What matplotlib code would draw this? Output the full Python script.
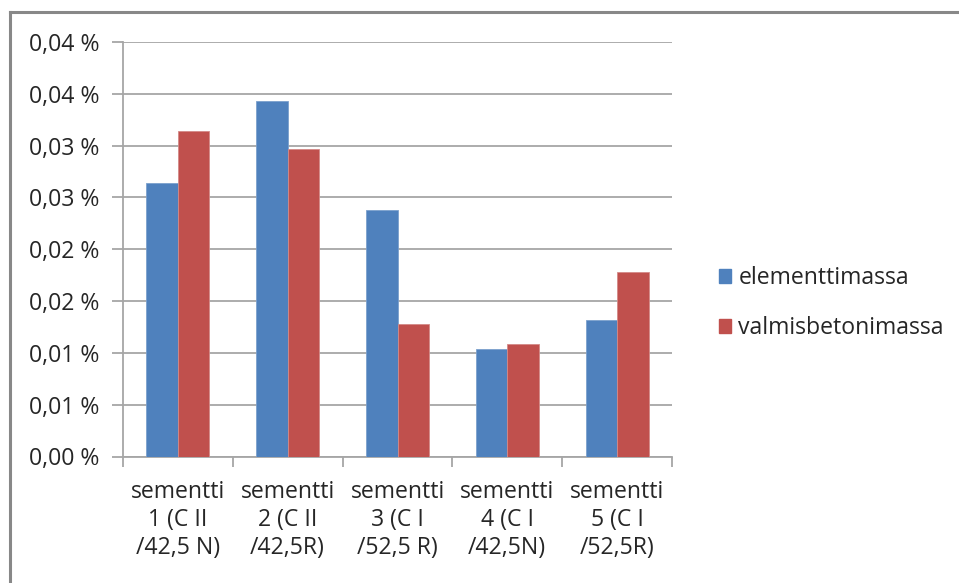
import matplotlib.pyplot as plt
from matplotlib.patches import Patch
from matplotlib.lines import Line2D
from matplotlib.ticker import FuncFormatter
from decimal import Decimal, ROUND_HALF_UP
import numpy as np

plt.rcParams['font.family'] = ['Open Sans', 'DejaVu Sans']

# osuudet prosentteina
categories = ['sementti\n1 (C II\n/42,5 N)', 'sementti\n2 (C II\n/42,5R)',
              'sementti\n3 (C I\n/52,5 R)', 'sementti\n4 (C I\n/42,5N)',
              'sementti\n5 (C I\n/52,5R)']
elementtimassa = [0.0264, 0.0343, 0.0238, 0.0104, 0.0132]
valmisbetonimassa = [0.0314, 0.0297, 0.0128, 0.0109, 0.0178]
y_ticks = [0.000, 0.005, 0.010, 0.015, 0.020, 0.025, 0.030, 0.035, 0.040]

blue = '#4F81BD'
red = '#C0504D'
grid_col = '#A6A6A6'
fs = 16.6


def pct(v, pos):
    # pyöristys kuten taulukkolaskennassa (puolikkaat ylöspäin)
    d = Decimal(str(round(v, 6))).quantize(Decimal('0.01'), rounding=ROUND_HALF_UP)
    return f'{d} %'.replace('.', ',')


fig = plt.figure(figsize=(9.59, 5.83), dpi=100)
ax = fig.add_axes([123 / 959, 126.5 / 583, 549 / 959, 414.5 / 583])

x = np.arange(len(categories))
w = 0.286
ax.bar(x - w / 2, elementtimassa, w, color=blue, edgecolor='#7BA0CD', linewidth=0.6,
       label='elementtimassa', zorder=3)
ax.bar(x + w / 2, valmisbetonimassa, w, color=red, edgecolor='#D48A88', linewidth=0.6,
       label='valmisbetonimassa', zorder=3)

ax.set_xlim(-0.5, len(categories) - 0.5)
ax.set_ylim(0, 0.040)
ax.set_yticks(y_ticks)
ax.yaxis.set_major_formatter(FuncFormatter(pct))
ax.grid(axis='y', color=grid_col, linewidth=1.3, zorder=0)

# jakoviivat kategorioiden välissä, nimet keskellä
ax.set_xticks(np.arange(len(categories) + 1) - 0.5)
ax.set_xticklabels([])
ax.set_xticks(x, minor=True)
ax.set_xticklabels(categories, minor=True, fontsize=fs, color='#262626',
                   linespacing=1.22)
ax.tick_params(axis='x', which='major', length=7, color=grid_col, width=1.3, direction='out')
ax.tick_params(axis='x', which='minor', length=0, pad=17)
ax.tick_params(axis='y', length=8, color=grid_col, width=1.3, pad=9, labelsize=fs,
               labelcolor='#262626')

for s in ['top', 'right']:
    ax.spines[s].set_visible(False)
for s in ['left', 'bottom']:
    ax.spines[s].set_color(grid_col)
    ax.spines[s].set_linewidth(1.3)

handles = [Patch(color=blue, label='elementtimassa'),
           Patch(color=red, label='valmisbetonimassa')]
fig.legend(handles=handles, loc='center left', bbox_to_anchor=(698 / 959, 1 - 303 / 583),
           frameon=False, fontsize=fs, handlelength=0.55, handleheight=0.55,
           handletextpad=0.3, labelspacing=1.12, labelcolor='#262626')

# kaavion reunaviiva
fig.add_artist(Line2D([9.5 / 959, 9.5 / 959], [0, 1 - 11.5 / 583],
                      transform=fig.transFigure, color='#888888', linewidth=2.2))
fig.add_artist(Line2D([9.5 / 959, 1], [1 - 11.5 / 583, 1 - 11.5 / 583],
                      transform=fig.transFigure, color='#888888', linewidth=2.2))

fig.savefig('out.png', dpi=100)
